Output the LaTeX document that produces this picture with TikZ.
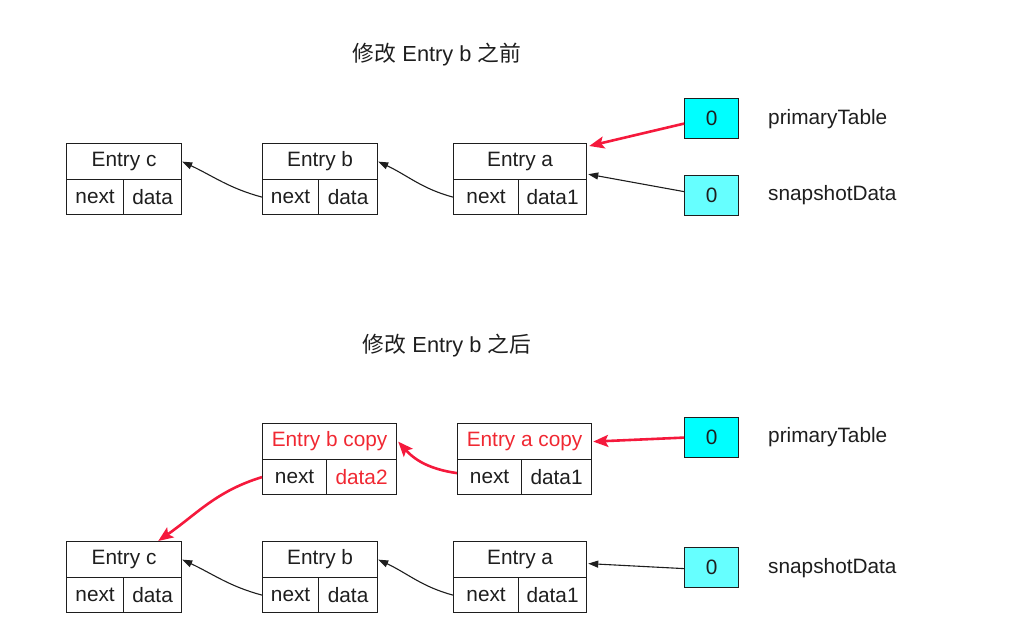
\documentclass[tikz,border=0pt]{standalone}
\usepackage{fontspec}
\setmainfont{Liberation Sans}
\newfontfamily\cjk{Noto Sans CJK SC}
\usetikzlibrary{arrows.meta,calc}
\definecolor{lnred}{RGB}{245,25,60}
\definecolor{txred}{RGB}{240,40,50}
\definecolor{brcyan}{RGB}{0,255,255}
\definecolor{ltcyan}{RGB}{102,255,255}
\definecolor{ink}{RGB}{30,30,30}
\begin{document}
\begin{tikzpicture}[x=1pt,y=-1pt,
  every node/.style={font=\fontsize{20.8}{24}\selectfont, text=ink},
  cell/.style={draw=ink, line width=1.2pt, inner sep=0pt, anchor=north west},
  hcell/.style={cell, minimum height=36pt},
  bcell/.style={cell, minimum height=35pt},
  ptr/.style={cell, minimum width=54pt, minimum height=40pt},
  lbl/.style={anchor=west, inner sep=0pt},
  ttl/.style={inner sep=0pt, font=\fontsize{21.8}{26}\selectfont},
  blk/.style={draw=ink, line width=1.1pt, -{Triangle[length=10pt,width=7pt]}},
  redarr/.style={draw=lnred, line width=2.6pt, -{Stealth[length=15pt,width=12pt,inset=3pt]}}
]
\useasboundingbox (0,0) rectangle (1013,641);

% titles
\node[ttl] (t1) at (437,55) {{\cjk 修改} Entry b {\cjk 之前}};
\node[ttl] (t2) at (447,346) {{\cjk 修改} Entry b {\cjk 之后}};

% ---------- top: before ----------
\node[hcell, minimum width=115pt] (tc-h) at (66,143) {Entry c};
\node[bcell, minimum width=57pt] (tc-n) at (66,179) {next};
\node[bcell, minimum width=58pt] (tc-d) at (123,179) {data};

\node[hcell, minimum width=115pt] (tb-h) at (262,143) {Entry b};
\node[bcell, minimum width=56pt] (tb-n) at (262,179) {next};
\node[bcell, minimum width=59pt] (tb-d) at (318,179) {data};

\node[hcell, minimum width=133pt] (ta-h) at (453,143) {Entry a};
\node[bcell, minimum width=65pt] (ta-n) at (453,179) {next};
\node[bcell, minimum width=68pt] (ta-d) at (518,179) {data1};

\node[ptr, fill=brcyan] (tp) at (684,98) {0};
\node[ptr, fill=ltcyan] (ts) at (684,175) {0};
\node[lbl] (tpl) at (768,119) {primaryTable};
\node[lbl] (tsl) at (768,195) {snapshotData};

\draw[blk] (tb-n.west) to[out=165,in=-25] (tc-h.east);
\draw[blk] (ta-n.west) to[out=165,in=-25] (tb-h.east);
\draw[redarr] ([yshift=-5pt]tp.west) -- ([xshift=2pt,yshift=-3pt]ta-h.north east);
\draw[blk] ([yshift=4pt]ts.west) -- ([xshift=1pt,yshift=6pt]ta-h.south east);

% ---------- bottom: after ----------
\node[hcell, minimum width=134pt] (cb-h) at (262,423) {\color{txred}Entry b copy};
\node[bcell, minimum width=64pt] (cb-n) at (262,459) {next};
\node[bcell, minimum width=70pt] (cb-d) at (326,459) {\color{txred}data2};

\node[hcell, minimum width=134pt] (ca-h) at (457,423) {\color{txred}Entry a copy};
\node[bcell, minimum width=64pt] (ca-n) at (457,459) {next};
\node[bcell, minimum width=70pt] (ca-d) at (521,459) {data1};

\node[hcell, minimum width=115pt] (bc-h) at (66,541) {Entry c};
\node[bcell, minimum width=57pt] (bc-n) at (66,577) {next};
\node[bcell, minimum width=58pt] (bc-d) at (123,577) {data};

\node[hcell, minimum width=115pt] (bb-h) at (262,541) {Entry b};
\node[bcell, minimum width=56pt] (bb-n) at (262,577) {next};
\node[bcell, minimum width=59pt] (bb-d) at (318,577) {data};

\node[hcell, minimum width=133pt] (ba-h) at (453,541) {Entry a};
\node[bcell, minimum width=65pt] (ba-n) at (453,577) {next};
\node[bcell, minimum width=68pt] (ba-d) at (518,577) {data1};

\node[ptr, fill=brcyan] (bp) at (684,417) {0};
\node[ptr, fill=ltcyan] (bs) at (684,547) {0};
\node[lbl] (bpl) at (768,437) {primaryTable};
\node[lbl] (bsl) at (768,568) {snapshotData};

\draw[redarr] (bp.west) -- ([xshift=1pt]ca-h.east);
\draw[redarr] ([yshift=4pt]ca-n.west) to[out=172,in=-48] ([xshift=1pt]cb-h.east);
\draw[redarr] (cb-n.west) to[out=197,in=35] ([xshift=-24pt]bc-h.north east);
\draw[blk] (bb-n.west) to[out=165,in=-25] (bc-h.east);
\draw[blk] (ba-n.west) to[out=165,in=-25] (bb-h.east);
\draw[blk] ([yshift=-1pt]bs.west) -- ([xshift=1pt,yshift=-4pt]ba-h.east);
\end{tikzpicture}
\end{document}
